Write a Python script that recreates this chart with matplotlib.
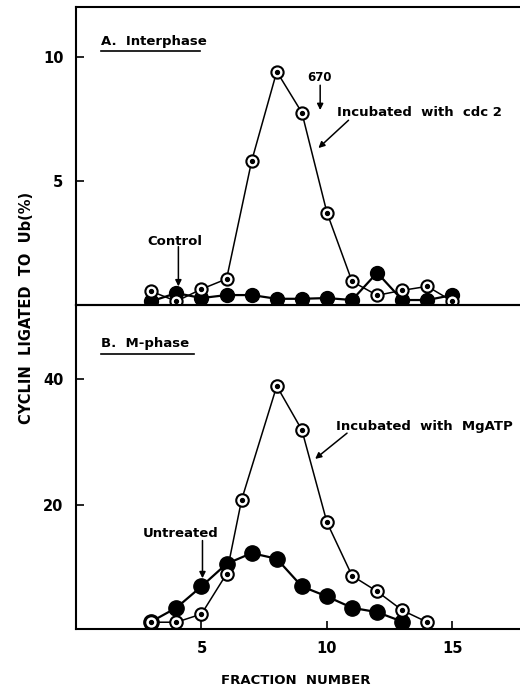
import matplotlib
matplotlib.use("Agg")
import matplotlib.pyplot as plt

plt.rcParams['font.family'] = ['DejaVu Sans']
plt.rcParams['font.weight'] = 'bold'

# Panel A: Interphase
fracA = [3, 4, 5, 6, 7, 8, 9, 10, 11, 12, 13, 14, 15]
cdc2 = [0.55, 0.15, 0.64, 1.05, 5.8, 9.4, 7.75, 3.72, 0.95, 0.39, 0.59, 0.75, 0.15]
control = [0.15, 0.48, 0.28, 0.40, 0.40, 0.25, 0.25, 0.28, 0.20, 1.30, 0.20, 0.20, 0.40]

# Panel B: M-phase
fracB_atp = [3, 4, 5, 6, 6.6, 8, 9, 10, 11, 12, 13, 14]
mgatp = [1.3, 1.3, 2.6, 9.0, 20.8, 38.9, 31.9, 17.2, 8.7, 6.2, 3.2, 1.3]
fracB_unt = [3, 4, 5, 6, 7, 8, 9, 10, 11, 12, 13]
untreated = [1.4, 3.6, 7.0, 10.6, 12.3, 11.4, 7.0, 5.4, 3.6, 2.9, 1.4]

xticks = [5, 10, 15]
yticksA = [5, 10]
yticksB = [20, 40]

W, H = 520, 690
fig = plt.figure(figsize=(W / 100, H / 100), dpi=100)

left = 76 / W
axA = fig.add_axes([left, 1 - 305 / H, 1 - left + 0.01, (305 - 7) / H])
axB = fig.add_axes([left, 1 - 628.5 / H, 1 - left + 0.01, (628.5 - 305) / H])

def open_series(ax, x, y, ms=8.8, z=3):
    ax.plot(x, y, '-', color='black', lw=1.1, zorder=z)
    ax.plot(x, y, 'o', ms=ms, mfc='white', mec='black', mew=1.5, zorder=z + 0.1,
            ls='none')
    ax.plot(x, y, 'o', ms=2.8, mfc='black', mec='black', zorder=z + 0.2, ls='none')

def filled_series(ax, x, y, ms=10.5, z=2):
    ax.plot(x, y, '-', color='black', lw=1.6, zorder=z)
    ax.plot(x, y, 'o', ms=ms, mfc='black', mec='black', zorder=z + 0.1, ls='none')

# Panel A
filled_series(axA, fracA, control, ms=10.0, z=2)
open_series(axA, fracA, cdc2, ms=8.8, z=3)
axA.set_xlim(0, 17.9)
axA.set_ylim(0, 12.0)
axA.set_yticks(yticksA)
axA.set_xticks([])

# Panel B
filled_series(axB, fracB_unt, untreated, ms=11.0, z=2)
open_series(axB, fracB_atp, mgatp, ms=9.0, z=3)
axB.set_xlim(0, 17.9)
axB.set_ylim(0.3, 51.8)
axB.set_yticks(yticksB)
axB.set_xticks(xticks)
axB.set_xticklabels([str(t) for t in xticks])

for ax in (axA, axB):
    ax.spines['right'].set_visible(False)
    for s in ('left', 'top', 'bottom'):
        ax.spines[s].set_linewidth(1.5)
    ax.tick_params(direction='in', length=6, width=1.2, labelsize=10.5, pad=9)
    ax.patch.set_visible(False)
    for lab in ax.get_xticklabels() + ax.get_yticklabels():
        lab.set_fontweight('bold')

tk = dict(fontsize=9.5, fontweight='bold', color='black')
arr = dict(arrowstyle='-|>', color='black', lw=1.1, mutation_scale=9, shrinkA=0, shrinkB=0)

# Panel A annotations
axA.text(0.055, 0.885, 'A.  Interphase', transform=axA.transAxes, ha='left',
         va='center', **tk)
axA.plot([0.056, 0.276], [0.852, 0.852], transform=axA.transAxes, color='black',
         lw=1.2, clip_on=False)
axA.text(9.7, 9.15, '670', ha='center', va='center', fontsize=8.5, fontweight='bold')
axA.annotate('', xy=(9.73, 7.85), xytext=(9.73, 8.85), arrowprops=arr)
axA.text(10.42, 7.74, 'Incubated  with  cdc 2', ha='left', va='center', **tk)
axA.annotate('', xy=(9.66, 6.32), xytext=(10.86, 7.44), arrowprops=arr)
axA.text(3.94, 2.56, 'Control', ha='center', va='center', **tk)
axA.annotate('', xy=(4.08, 0.75), xytext=(4.08, 2.35), arrowprops=arr)

# Panel B annotations
axB.text(0.055, 0.88, 'B.  M-phase', transform=axB.transAxes, ha='left',
         va='center', **tk)
axB.plot([0.056, 0.262], [0.85, 0.85], transform=axB.transAxes, color='black',
         lw=1.2, clip_on=False)
axB.text(10.35, 32.5, 'Incubated  with  MgATP', ha='left', va='center', **tk)
axB.annotate('', xy=(9.53, 27.3), xytext=(10.8, 31.4), arrowprops=arr)
axB.text(4.16, 15.5, 'Untreated', ha='center', va='center', **tk)
axB.annotate('', xy=(5.04, 8.3), xytext=(5.04, 14.3), arrowprops=arr)

fig.text(27 / W, 1 - 308 / H, 'CYCLIN  LIGATED  TO  Ub(%)', rotation=90,
         ha='center', va='center', fontsize=10.5, fontweight='bold')
fig.text(296 / W, 1 - 680 / H, 'FRACTION  NUMBER', ha='center', va='center',
         fontsize=9.5, fontweight='bold')

fig.savefig('out.png', dpi=100)
